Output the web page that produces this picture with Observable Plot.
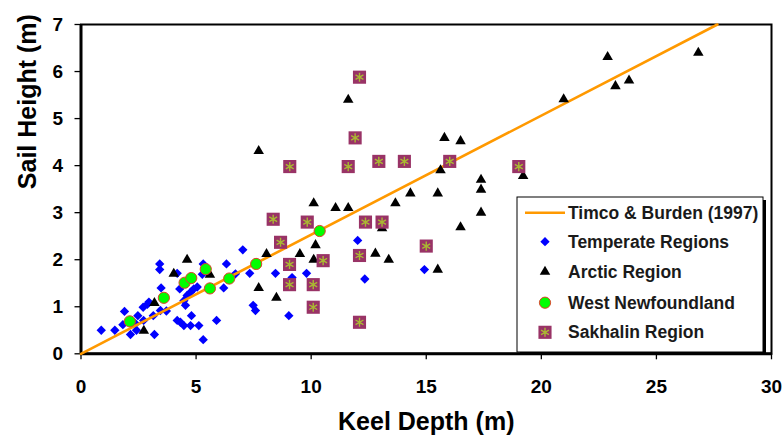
<!DOCTYPE html>
<html><head><meta charset="utf-8">
<script src="https://cdn.jsdelivr.net/npm/d3@7"></script>
<script src="https://cdn.jsdelivr.net/npm/@observablehq/plot@0.6"></script>
<style>body{margin:0;background:#fff}</style>
</head><body><div id="chart"></div>
<script>
const xTicks = [0, 5, 10, 15, 20, 25, 30];
const yTicks = [0, 1, 2, 3, 4, 5, 6, 7];
const xLabel = "Keel Depth (m)";
const yLabel = "Sail Height (m)";
const seriesNames = ["Timco & Burden (1997)", "Temperate Regions", "Arctic Region", "West Newfoundland", "Sakhalin Region"];

const timcoX = [0, 27.65];
const timcoY = [0, 7];

const temperateX = [0.88,1.47,1.89,1.82,2.15,2.41,2.47,2.37,2.72,2.70,2.88,2.95,3.19,3.14,3.42,3.42,3.48,3.45,3.71,4.18,4.29,4.18,4.32,4.47,4.76,4.80,4.47,4.61,4.76,4.90,5.05,4.54,5.12,5.31,5.31,5.27,5.89,6.20,6.32,6.71,7.03,7.33,7.48,7.58,8.45,9.17,9.03,9.80,12.02,12.33,14.92];
const temperateY = [0.50,0.50,0.90,0.62,0.41,0.50,0.81,0.64,0.71,0.99,1.05,1.10,0.41,0.81,1.91,1.79,1.40,0.92,0.91,1.71,1.38,0.71,0.67,0.60,0.60,0.81,1.13,1.24,1.31,1.38,1.42,1.03,0.60,0.30,1.91,1.69,0.71,1.40,1.91,1.70,2.21,1.71,1.03,0.92,1.71,1.62,0.81,1.71,2.41,1.59,1.79];

const arcticX = [2.73,3.19,4.03,4.61,5.60,7.61,7.72,8.06,8.49,7.72,9.51,10.11,10.19,10.11,11.06,11.61,11.61,12.79,13.37,13.08,13.66,14.31,15.50,15.62,15.79,16.49,16.49,15.50,17.38,17.38,17.38,19.21,20.97,22.88,23.22,23.81,26.82];
const arcticY = [0.49,1.08,1.70,2.00,1.68,1.91,1.40,2.12,1.19,4.31,2.12,3.20,2.31,2.00,3.10,3.10,5.40,2.13,2.00,2.67,3.20,3.41,3.41,3.90,4.59,4.52,2.69,1.79,3.70,3.49,3.00,3.78,5.41,6.31,5.69,5.81,6.40];

const westX = [2.12,3.60,4.50,4.79,5.42,5.60,6.44,7.61,10.37];
const westY = [0.69,1.19,1.51,1.61,1.80,1.39,1.60,1.91,2.61];

const sakhalinX = [12.10,11.91,9.07,11.61,12.94,14.05,16.02,19.02,8.35,9.83,12.36,13.08,8.67,9.06,10.52,12.10,15.00,9.06,10.09,10.09,12.10];
const sakhalinY = [5.88,4.59,3.98,3.98,4.09,4.09,4.09,3.98,2.86,2.80,2.80,2.80,2.37,1.90,1.98,2.09,2.29,1.47,1.47,0.99,0.67];

const C = {line:"#ff9900", blue:"#0000ff", black:"#000000", green:"#00ff00", greenStroke:"#e0402a", sak:"#993366", sakStar:"#aab832"};
const R = {diamond:4.2, triangle:3.9, circle:5.6, square:7.4, star:4.3};

const chart = Plot.plot({
  width: 784, height: 441,
  marginLeft: 80.5, marginRight: 13, marginTop: 24, marginBottom: 87.7,
  style: {fontFamily: "'Liberation Sans', Arial, sans-serif", fontWeight: "bold", fontSize: "19px", background: "#fff", color: "#000", overflow: "visible"},
  x: {domain: [0, 30]},
  y: {domain: [0, 7]},
  marks: [
    Plot.axisX({ticks: xTicks, tickSize: 6, tickPadding: 20, label: null, tickFormat: d => String(d), strokeWidth: 1.3}),
    Plot.axisY({ticks: yTicks, tickSize: 6, tickPadding: 12, label: null, tickFormat: d => String(d), strokeWidth: 1.3}),
    Plot.frame({stroke: "#000", strokeWidth: 2}),
    Plot.ruleX([0], {stroke: "#000", strokeWidth: 3}),
    Plot.ruleY([0], {stroke: "#000", strokeWidth: 3}),
    Plot.dot(temperateX, {x: temperateX, y: temperateY, symbol: "diamond2", r: R.diamond, fill: C.blue, stroke: "none"}),
    Plot.line(timcoX, {x: timcoX, y: timcoY, stroke: C.line, strokeWidth: 2.6}),
    Plot.dot(arcticX, {x: arcticX, y: arcticY, symbol: "triangle", r: R.triangle, fill: C.black, stroke: "none"}),
    Plot.dot(westX, {x: westX, y: westY, symbol: "circle", r: R.circle, fill: C.green, stroke: C.greenStroke, strokeWidth: 1}),
    Plot.dot(sakhalinX, {x: sakhalinX, y: sakhalinY, symbol: "square", r: R.square, fill: C.sak, stroke: "none"}),
    Plot.dot(sakhalinX, {x: sakhalinX, y: sakhalinY, symbol: "asterisk", r: R.star, stroke: C.sakStar, strokeWidth: 1.4}),
    Plot.text([xLabel], {text: d => d, frameAnchor: "bottom", dy: 76, fontSize: 25, fontWeight: "bold", fill: "#000"}),
    Plot.text([yLabel], {text: d => d, frameAnchor: "left", dx: -53.5, rotate: -90, fontSize: 25, fontWeight: "bold", fill: "#000"})
  ]
});
document.getElementById("chart").appendChild(chart);

// Legend box inside the plot area
const svg = d3.select(chart);
const lg = svg.append("g")
  .style("font-family", "'Liberation Sans', Arial, sans-serif")
  .style("font-weight", "bold").style("font-size", "17.5px").style("text-anchor", "start");
const bx = 517, by = 197, bw = 246, bh = 155;
lg.append("rect").attr("x", bx + 3).attr("y", by + 3).attr("width", bw).attr("height", bh)
  .style("fill", "#000").style("stroke", "none");
lg.append("rect").attr("x", bx).attr("y", by).attr("width", bw).attr("height", bh)
  .style("fill", "#fff").style("stroke", "#000").style("stroke-width", "1px");
const rows = [212.7, 241.7, 271.7, 302.7, 332.3];
const mx = 545, tx = 568;
lg.append("line").attr("x1", 525).attr("x2", 565).attr("y1", rows[0]).attr("y2", rows[0])
  .style("stroke", C.line).style("stroke-width", "2.6px");
const sym = (type, r) => d3.symbol(type, Math.PI * r * r)();
lg.append("path").attr("d", sym(d3.symbolDiamond2, R.diamond)).attr("transform", `translate(${mx},${rows[1]})`).style("fill", C.blue).style("stroke", "none");
lg.append("path").attr("d", sym(d3.symbolTriangle, R.triangle)).attr("transform", `translate(${mx},${rows[2]})`).style("fill", C.black).style("stroke", "none");
lg.append("circle").attr("cx", mx).attr("cy", rows[3]).attr("r", R.circle).style("fill", C.green).style("stroke", C.greenStroke);
lg.append("path").attr("d", sym(d3.symbolSquare, R.square)).attr("transform", `translate(${mx},${rows[4]})`).style("fill", C.sak).style("stroke", "none");
lg.append("path").attr("d", sym(d3.symbolAsterisk, R.star)).attr("transform", `translate(${mx},${rows[4]})`).style("fill", "none").style("stroke", C.sakStar).style("stroke-width", "1.4px");
seriesNames.forEach((name, i) => {
  lg.append("text").attr("x", tx).attr("y", rows[i]).attr("dy", "0.35em")
    .style("fill", "#1a1a1a").style("stroke", "none").style("text-anchor", "start").text(name);
});
</script></body></html>
